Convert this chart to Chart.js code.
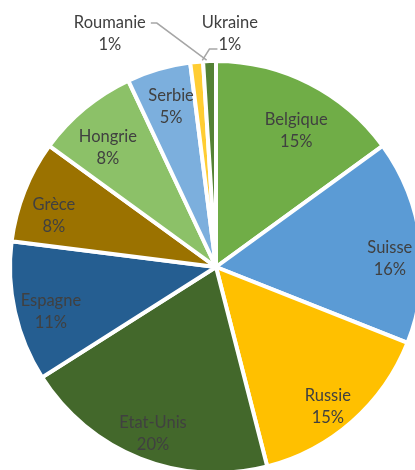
<!DOCTYPE html>
<html>
<head>
<meta charset="utf-8">
<script src="https://cdn.jsdelivr.net/npm/chart.js@4/dist/chart.umd.min.js"></script>
<style>
  html, body { margin: 0; padding: 0; background: #ffffff; overflow: hidden; width: 415px; height: 470px; }
  #wrap { position: absolute; left: 0; top: 0; width: 432px; height: 534px; }
</style>
</head>
<body>
<div id="wrap"><canvas id="pie" width="432" height="534"></canvas></div>
<script>
// Répartition par pays (%)
const countries = ['Belgique', 'Suisse', 'Russie', 'Etat-Unis', 'Espagne', 'Grèce', 'Hongrie', 'Serbie', 'Ukraine', 'Roumanie'];
const shares = [15, 16, 15, 20, 11, 8, 8, 5, 1, 1];
const sliceColors = ['#70AD47', '#5B9BD5', '#FFC000', '#43682B', '#255E91', '#9B7200', '#8CC168', '#7CAFDD', '#FFCD33', '#548235'];

// Where each label sits: fraction of the radius, angular nudge (degrees) from the slice middle,
// and for the outside labels a leader line toward the slice edge.
const labelPlacement = [
  { r: 0.775, da: 3.5 },
  { r: 0.853, da: 4.6 },
  { r: 0.877, da: 2.7 },
  { r: 0.873, da: -0.9 },
  { r: 0.838, da: -2.4 },
  { r: 0.833, da: -4.1 },
  { r: 0.789, da: -2.6 },
  { r: 0.814, da: 0.5 },
  { r: 1.144, da: 8.8, leader: 'left', targetDa: 1.6 },
  { r: 1.255, da: -22.7, leader: 'right', targetDa: -0.8 }
];

const FONT = '16.5px Lato, "Open Sans", sans-serif';
const LINE_GAP = 22;

const sliceLabels = {
  id: 'sliceLabels',
  afterDatasetsDraw(chart) {
    const ctx = chart.ctx;
    const arcs = chart.getDatasetMeta(0).data;
    ctx.save();
    ctx.font = FONT;
    ctx.textAlign = 'center';
    ctx.textBaseline = 'middle';
    arcs.forEach((arc, i) => {
      const p = arc.getProps(['x', 'y', 'startAngle', 'endAngle', 'outerRadius'], true);
      const mid = (p.startAngle + p.endAngle) / 2;
      const place = labelPlacement[i];
      const a = mid + place.da * Math.PI / 180;
      const R = p.outerRadius - 2;
      const cx = p.x + Math.cos(a) * R * place.r;
      const cy = p.y + Math.sin(a) * R * place.r;
      const line1 = countries[i];
      const line2 = shares[i] + '%';
      const y1 = cy - LINE_GAP / 2;
      const y2 = cy + LINE_GAP / 2;

      if (place.leader) {
        const ta = mid + place.targetDa * Math.PI / 180;
        const tx = p.x + Math.cos(ta) * (p.outerRadius + 1);
        const ty = p.y + Math.sin(ta) * (p.outerRadius + 1);
        ctx.strokeStyle = '#A6A6A6';
        ctx.lineWidth = 1.5;
        ctx.beginPath();
        if (place.leader === 'right') {
          const sx = cx + ctx.measureText(line1).width / 2 + 5;
          ctx.moveTo(sx, y1);
          ctx.lineTo(sx + 6, y1);
        } else {
          const sx = cx - ctx.measureText(line2).width / 2 - 1;
          ctx.moveTo(sx, y2 + 4);
          ctx.lineTo(sx - 8, y2 + 4);
        }
        ctx.lineTo(tx, ty);
        ctx.stroke();
      }

      ctx.fillStyle = '#404040';
      ctx.fillText(line1, cx, y1);
      ctx.fillText(line2, cx, y2);
    });
    ctx.restore();
  }
};

new Chart(document.getElementById('pie'), {
  type: 'pie',
  data: {
    labels: countries,
    datasets: [{
      data: shares,
      backgroundColor: sliceColors,
      borderColor: '#ffffff',
      borderWidth: 4
    }]
  },
  options: {
    responsive: false,
    animation: false,
    devicePixelRatio: 1,
    radius: 206,
    layout: { padding: 0 },
    plugins: {
      legend: { display: false },
      tooltip: { enabled: false },
      title: { display: false }
    }
  },
  plugins: [sliceLabels]
});
</script>
</body>
</html>
